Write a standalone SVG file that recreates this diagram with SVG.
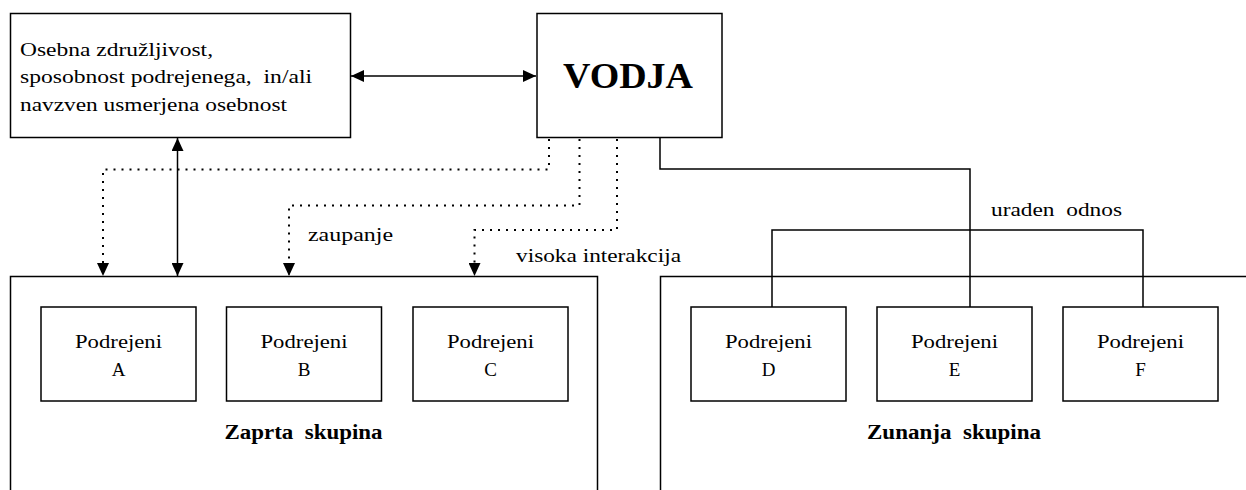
<svg xmlns="http://www.w3.org/2000/svg" width="1246" height="490" viewBox="0 0 1246 490">
<style>
.box{fill:#fff;stroke:#000;stroke-width:1.5}
.grp{fill:none;stroke:#000;stroke-width:1.5}
.ln{fill:none;stroke:#000;stroke-width:1.5}
.dot{fill:none;stroke:#000;stroke-width:2;stroke-dasharray:2 6}
text{font-family:"Liberation Serif","Times New Roman",serif;fill:#000}
.t{font-size:19px}
.c{font-size:19px;text-anchor:middle}
.b{font-size:20px;font-weight:bold;text-anchor:middle}
</style>
<defs>
<marker id="ah" markerUnits="userSpaceOnUse" markerWidth="13" markerHeight="12" refX="13" refY="6" orient="auto-start-reverse" viewBox="0 0 13 12">
<path d="M0,0 L13,6 L0,12 z" fill="#000"/>
</marker>
</defs>
<g id="connectors">
<line class="ln" x1="351" y1="76" x2="536" y2="76" marker-start="url(#ah)" marker-end="url(#ah)"/>
<line class="ln" x1="177.5" y1="138" x2="177.5" y2="276" marker-start="url(#ah)" marker-end="url(#ah)"/>
<path class="dot" d="M549,139 V169.5 H103 V276" marker-end="url(#ah)"/>
<path class="dot" d="M579.5,139 V205.5 H289 V276" marker-end="url(#ah)"/>
<path class="dot" d="M617,139 V230 H474.5 V276" marker-end="url(#ah)"/>
<path class="ln" d="M660,138 V169 H970 V307"/>
<path class="ln" d="M772,307 V230 H1143 V307"/>
<text class="t" x="308" y="241" textLength="85" lengthAdjust="spacingAndGlyphs">zaupanje</text>
<text class="t" x="516" y="262" textLength="165" lengthAdjust="spacingAndGlyphs">visoka interakcija</text>
<text class="t" x="991" y="216" textLength="131" lengthAdjust="spacingAndGlyphs">uraden&#160; odnos</text>
</g>
<g id="personality">
<rect class="box" x="10.5" y="13.5" width="340" height="124"/>
<text class="t" x="20" y="56" textLength="193" lengthAdjust="spacingAndGlyphs">Osebna združljivost,</text>
<text class="t" x="20" y="83" textLength="292" lengthAdjust="spacingAndGlyphs">sposobnost podrejenega,&#160; in/ali</text>
<text class="t" x="20" y="111" textLength="267" lengthAdjust="spacingAndGlyphs">navzven usmerjena osebnost</text>
</g>
<g id="vodja">
<rect class="box" x="537" y="13.5" width="185" height="124"/>
<text x="628" y="88" style="font-size:36px;font-weight:bold;text-anchor:middle" textLength="130" lengthAdjust="spacingAndGlyphs">VODJA</text>
</g>
<g id="closed-group">
<path class="grp" d="M10.5,495 V276.5 H597.5 V495"/>
<text class="b" x="303.5" y="439" textLength="158" lengthAdjust="spacingAndGlyphs">Zaprta&#160; skupina</text>
</g>
<g id="outer-group">
<path class="grp" d="M660.5,495 V276.5 H1250"/>
<text class="b" x="954" y="439" textLength="174" lengthAdjust="spacingAndGlyphs">Zunanja&#160; skupina</text>
</g>
<g id="sub-a">
<rect class="box" x="41" y="307" width="155" height="94"/>
<text class="c" x="118.5" y="348" textLength="87" lengthAdjust="spacingAndGlyphs">Podrejeni</text>
<text class="c" x="118.5" y="376">A</text>
</g>
<g id="sub-b">
<rect class="box" x="226.5" y="307" width="155" height="94"/>
<text class="c" x="304" y="348" textLength="87" lengthAdjust="spacingAndGlyphs">Podrejeni</text>
<text class="c" x="304" y="376">B</text>
</g>
<g id="sub-c">
<rect class="box" x="413" y="307" width="155" height="94"/>
<text class="c" x="490.5" y="348" textLength="87" lengthAdjust="spacingAndGlyphs">Podrejeni</text>
<text class="c" x="490.5" y="376">C</text>
</g>
<g id="sub-d">
<rect class="box" x="691" y="307" width="155" height="94"/>
<text class="c" x="768.5" y="348" textLength="87" lengthAdjust="spacingAndGlyphs">Podrejeni</text>
<text class="c" x="768.5" y="376">D</text>
</g>
<g id="sub-e">
<rect class="box" x="877" y="307" width="155" height="94"/>
<text class="c" x="954.5" y="348" textLength="87" lengthAdjust="spacingAndGlyphs">Podrejeni</text>
<text class="c" x="954.5" y="376">E</text>
</g>
<g id="sub-f">
<rect class="box" x="1063" y="307" width="155" height="94"/>
<text class="c" x="1140.5" y="348" textLength="87" lengthAdjust="spacingAndGlyphs">Podrejeni</text>
<text class="c" x="1140.5" y="376">F</text>
</g>
</svg>
